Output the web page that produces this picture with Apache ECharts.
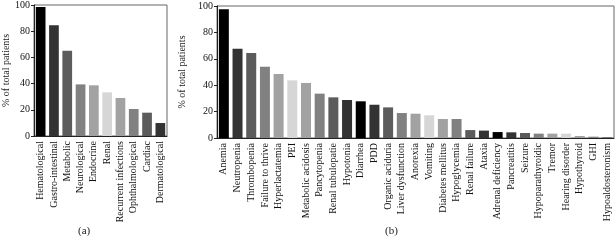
<!DOCTYPE html>
<html><head><meta charset="utf-8">
<script src="https://cdn.jsdelivr.net/npm/echarts@6/dist/echarts.min.js"></script>
<style>html,body{margin:0;padding:0;background:#fff}#c{width:616px;height:244px}</style>
</head><body><div id="c"></div>
<script>
const catsA = ["Hematological","Gastro-intestinal","Metabolic","Neurological","Endocrine","Renal","Recurrent infections","Ophthalmological","Cardiac","Dermatological"];
const valsA = [98.5, 84.5, 65, 39.4, 38.7, 33.3, 29, 20.6, 17.8, 9.9];
const catsB = ["Anemia","Neutropenia","Thrombopenia","Failure to thrive","Hyperlactatemia","PEI","Metabolic acidosis","Pancytopenia","Renal tubulopatie","Hypotonia","Diarrhea","PDD","Organic aciduria","Liver dysfunction","Anorexia","Vomiting","Diabetes mellitus","Hypoglycemia","Renal failure","Ataxia","Adrenal deficiency","Pancreatitis","Seizure","Hypoparathyroidic","Tremor","Hearing disorder","Hypothyroid","GHI","Hypoaldosteronism"];
const valsB = [97.5, 67.7, 64.4, 54, 48.5, 43.7, 41.7, 33.6, 30.8, 28.8, 27.8, 25.2, 23.2, 18.9, 18.4, 17.2, 14.4, 14.4, 6.0, 5.6, 4.5, 4.3, 3.8, 3.3, 3.3, 3.3, 1.5, 1.0, 0.5];
const yTicks = [0, 20, 40, 60, 80, 100];
const shades = ["#000000","#333333","#5c5c5c","#818181","#a2a2a2","#d6d6d6","#a2a2a2","#818181","#5c5c5c","#333333"];
const yName = "% of total patients";
const panelLabels = ["(a)", "(b)"];

const font = "'Liberation Serif', 'DejaVu Serif', serif";
const chart = echarts.init(document.getElementById('c'), null, {renderer: 'canvas'});

function xAxis(cats, gi) {
  return {
    type: 'category', data: cats, gridIndex: gi,
    axisLine: {lineStyle: {color: '#222', width: 1}},
    axisTick: {alignWithLabel: true, length: 3, lineStyle: {color: '#222'}},
    axisLabel: {rotate: 90, fontFamily: font, fontSize: 10, color: '#111', margin: 5, interval: 0}
  };
}
function yAxis(gi, gap) {
  return {
    type: 'value', gridIndex: gi, min: 0, max: 100, interval: 20,
    name: yName, nameLocation: 'middle', nameGap: gap,
    nameTextStyle: {fontFamily: font, fontSize: 10, color: '#222'},
    axisLine: {show: true, lineStyle: {color: '#222', width: 1}},
    axisTick: {show: true, length: 3, lineStyle: {color: '#222'}},
    axisLabel: {fontFamily: font, fontSize: 10, color: '#111', margin: 4,
      formatter: v => yTicks.includes(v) ? String(v) : ''},
    splitLine: {show: false}
  };
}
function colored(vals) {
  return vals.map((v, i) => ({value: v, itemStyle: {color: shades[i % shades.length]}}));
}

chart.setOption({
  animation: false,
  backgroundColor: '#fff',
  grid: [
    {left: 34, top: 5, width: 133, height: 131, show: true, borderColor: '#666', borderWidth: 1, backgroundColor: 'transparent'},
    {left: 217, top: 6, width: 397, height: 132, show: true, borderColor: '#666', borderWidth: 1, backgroundColor: 'transparent'}
  ],
  xAxis: [xAxis(catsA, 0), xAxis(catsB, 1)],
  yAxis: [yAxis(0, 22), yAxis(1, 24)],
  series: [
    {type: 'bar', xAxisIndex: 0, yAxisIndex: 0, data: colored(valsA), barCategoryGap: '27%'},
    {type: 'bar', xAxisIndex: 1, yAxisIndex: 1, data: colored(valsB), barCategoryGap: '27%'}
  ],
  graphic: [
    {type: 'text', left: 78, top: 226, style: {text: panelLabels[0], font: '11px ' + font, fill: '#222'}},
    {type: 'text', left: 385, top: 226, style: {text: panelLabels[1], font: '11px ' + font, fill: '#222'}}
  ]
});
</script></body></html>
